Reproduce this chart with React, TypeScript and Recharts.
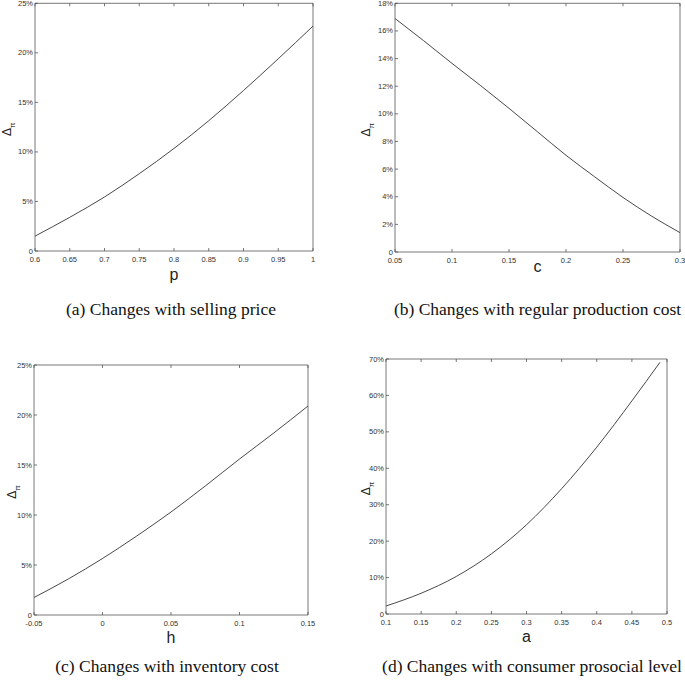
import React from 'react';
import { LineChart, Line, XAxis, YAxis } from 'recharts';

// (a) selling price p
const P_X = [0.6, 0.65, 0.7, 0.75, 0.8, 0.85, 0.9, 0.95, 1.0];
const P_DELTA = [1.5, 3.4, 5.45, 7.8, 10.35, 13.15, 16.2, 19.4, 22.7];
const P_TICKS = [0.6, 0.65, 0.7, 0.75, 0.8, 0.85, 0.9, 0.95, 1];
const P_Y_TICKS = [0, 5, 10, 15, 20, 25];

// (b) regular production cost c
const C_X = [0.05, 0.075, 0.1, 0.125, 0.15, 0.175, 0.2, 0.225, 0.25, 0.275, 0.3];
const C_DELTA = [16.9, 15.3, 13.65, 12.05, 10.4, 8.7, 7.0, 5.45, 3.95, 2.6, 1.4];
const C_TICKS = [0.05, 0.1, 0.15, 0.2, 0.25, 0.3];
const C_Y_TICKS = [0, 2, 4, 6, 8, 10, 12, 14, 16, 18];

// (c) inventory cost h
const H_X = [-0.05, -0.025, 0, 0.025, 0.05, 0.075, 0.1, 0.125, 0.15];
const H_DELTA = [1.75, 3.6, 5.65, 7.9, 10.3, 12.9, 15.6, 18.2, 20.9];
const H_TICKS = [-0.05, 0, 0.05, 0.1, 0.15];
const H_Y_TICKS = [0, 5, 10, 15, 20, 25];

// (d) consumer prosocial level a
const A_X = [0.1, 0.15, 0.2, 0.25, 0.3, 0.35, 0.4, 0.45, 0.49];
const A_DELTA = [2.2, 5.7, 10.3, 16.5, 24.5, 34.4, 45.8, 58.5, 69.1];
const A_TICKS = [0.1, 0.15, 0.2, 0.25, 0.3, 0.35, 0.4, 0.45, 0.5];
const A_Y_TICKS = [0, 10, 20, 30, 40, 50, 60, 70];

const CAPTIONS = [
  '(a) Changes with selling price',
  '(b) Changes with regular production cost',
  '(c) Changes with inventory cost',
  '(d) Changes with consumer prosocial level',
];

const BOX = '#555';
const LINE = '#333';
const AX = 1; // axis band thickness
const TICK_FONT = {
  fontFamily: '"Liberation Sans Narrow", "Liberation Sans", Arial, sans-serif',
  fontSize: 7.5,
  fill: '#333',
};
const SANS = '"Liberation Sans", Arial, sans-serif';
const SERIF = '"Liberation Serif", "Times New Roman", serif';

const fmtY = (v: number) => (v === 0 ? '0' : `${v}%`);

const BottomTick = (props: any) => {
  const { x, y, payload } = props;
  return (
    <g>
      <line x1={x} y1={y} x2={x} y2={y - 3} stroke={BOX} strokeWidth={0.8} />
      <text x={x} y={y + 11} textAnchor="middle" {...TICK_FONT}>
        {String(payload.value)}
      </text>
    </g>
  );
};

const LeftTick = (props: any) => {
  const { x, y, payload } = props;
  return (
    <g>
      <line x1={x} y1={y} x2={x + 3} y2={y} stroke={BOX} strokeWidth={0.8} />
      <text x={x - 2} y={y + 2.5} textAnchor="end" {...TICK_FONT}>
        {fmtY(payload.value)}
      </text>
    </g>
  );
};

const TopTick = (props: any) => {
  const { x, y } = props;
  return <line x1={x} y1={y} x2={x} y2={y + 3} stroke={BOX} strokeWidth={0.8} />;
};

const RightTick = (props: any) => {
  const { x, y } = props;
  return <line x1={x} y1={y} x2={x - 3} y2={y} stroke={BOX} strokeWidth={0.8} />;
};

const AxisName = (props: any) => {
  const { viewBox, value, dy } = props;
  if (!viewBox) return null;
  return (
    <text
      x={viewBox.x + viewBox.width / 2}
      y={viewBox.y + dy}
      textAnchor="middle"
      fontFamily={SANS}
      fontSize={16}
      fill="#222"
    >
      {value}
    </text>
  );
};

const DeltaLabel = (props: any) => {
  const { viewBox, dx } = props;
  if (!viewBox) return null;
  const cx = viewBox.x + viewBox.width + dx;
  const cy = viewBox.y + viewBox.height / 2 + 2;
  return (
    <text
      transform={`translate(${cx},${cy}) rotate(-90)`}
      textAnchor="middle"
      fontFamily={SANS}
      fontSize={12}
      fill="#222"
    >
      Δ
      <tspan fontSize={8} dy={4}>
        π
      </tspan>
    </text>
  );
};

interface PanelProps {
  xs: number[];
  ys: number[];
  xTicks: number[];
  yTicks: number[];
  name: string;
  nameDy: number;
  labelDx: number;
  frame: { left: number; top: number; width: number; height: number };
  box: { x0: number; y0: number; x1: number; y1: number };
}

const Panel: React.FC<PanelProps> = ({ xs, ys, xTicks, yTicks, name, nameDy, labelDx, frame, box }) => {
  const data = xs.map((x, i) => ({ x, y: ys[i] }));
  const xDomain = [xTicks[0], xTicks[xTicks.length - 1]];
  const yDomain = [yTicks[0], yTicks[yTicks.length - 1]];
  const margin = {
    top: box.y0 - frame.top - AX,
    left: box.x0 - frame.left - AX,
    right: frame.left + frame.width - box.x1 - AX,
    bottom: frame.top + frame.height - box.y1 - AX,
  };

  return (
    <div style={{ position: 'absolute', left: frame.left, top: frame.top }}>
      <LineChart width={frame.width} height={frame.height} data={data} margin={margin}>
        <XAxis
          dataKey="x"
          type="number"
          domain={xDomain}
          ticks={xTicks}
          interval={0}
          height={AX}
          tickLine={false}
          tickSize={0}
          tickMargin={0}
          axisLine={{ stroke: BOX, strokeWidth: 0.8 }}
          tick={<BottomTick />}
          label={<AxisName value={name} dy={nameDy} />}
        />
        <XAxis
          xAxisId="top"
          orientation="top"
          dataKey="x"
          type="number"
          domain={xDomain}
          ticks={xTicks}
          interval={0}
          height={AX}
          tickLine={false}
          tickSize={0}
          tickMargin={0}
          axisLine={{ stroke: BOX, strokeWidth: 0.8 }}
          tick={<TopTick />}
        />
        <YAxis
          type="number"
          domain={yDomain}
          ticks={yTicks}
          interval={0}
          width={AX}
          tickLine={false}
          tickSize={0}
          tickMargin={0}
          axisLine={{ stroke: BOX, strokeWidth: 0.8 }}
          tick={<LeftTick />}
          label={<DeltaLabel dx={labelDx} />}
        />
        <YAxis
          yAxisId="right"
          orientation="right"
          type="number"
          domain={yDomain}
          ticks={yTicks}
          interval={0}
          width={AX}
          tickLine={false}
          tickSize={0}
          tickMargin={0}
          axisLine={{ stroke: BOX, strokeWidth: 0.8 }}
          tick={<RightTick />}
        />
        <Line
          type="monotone"
          dataKey="y"
          stroke={LINE}
          strokeWidth={0.9}
          dot={false}
          activeDot={false}
          isAnimationActive={false}
        />
      </LineChart>
    </div>
  );
};

const App: React.FC = () => {
  return (
    <div style={{ position: 'absolute', left: 0, top: 0, width: 685, height: 682, background: '#fff', overflow: 'hidden' }}>
      <svg width={685} height={682} style={{ position: 'absolute', left: 0, top: 0 }}>
        <text x={171} y={315} textAnchor="middle" fontFamily={SERIF} fontSize={17.5} fill="#111">{CAPTIONS[0]}</text>
        <text x={537.5} y={315} textAnchor="middle" fontFamily={SERIF} fontSize={17.5} fill="#111">{CAPTIONS[1]}</text>
        <text x={167} y={672} textAnchor="middle" fontFamily={SERIF} fontSize={17.5} fill="#111">{CAPTIONS[2]}</text>
        <text x={532} y={672} textAnchor="middle" fontFamily={SERIF} fontSize={17.5} fill="#111">{CAPTIONS[3]}</text>
      </svg>
      <Panel
        xs={P_X}
        ys={P_DELTA}
        xTicks={P_TICKS}
        yTicks={P_Y_TICKS}
        name="p"
        nameDy={29}
        labelDx={-24}
        frame={{ left: 0, top: 0, width: 342, height: 330 }}
        box={{ x0: 35, y0: 3.3, x1: 313, y1: 251 }}
      />
      <Panel
        xs={C_X}
        ys={C_DELTA}
        xTicks={C_TICKS}
        yTicks={C_Y_TICKS}
        name="c"
        nameDy={20}
        labelDx={-25}
        frame={{ left: 342, top: 0, width: 343, height: 330 }}
        box={{ x0: 395, y0: 3.3, x1: 680, y1: 252 }}
      />
      <Panel
        xs={H_X}
        ys={H_DELTA}
        xTicks={H_TICKS}
        yTicks={H_Y_TICKS}
        name="h"
        nameDy={28}
        labelDx={-18}
        frame={{ left: 0, top: 330, width: 342, height: 352 }}
        box={{ x0: 34, y0: 365, x1: 308, y1: 615 }}
      />
      <Panel
        xs={A_X}
        ys={A_DELTA}
        xTicks={A_TICKS}
        yTicks={A_Y_TICKS}
        name="a"
        nameDy={28}
        labelDx={-16}
        frame={{ left: 342, top: 330, width: 343, height: 352 }}
        box={{ x0: 386, y0: 359, x1: 667, y1: 614 }}
      />
    </div>
  );
};

export default App;
